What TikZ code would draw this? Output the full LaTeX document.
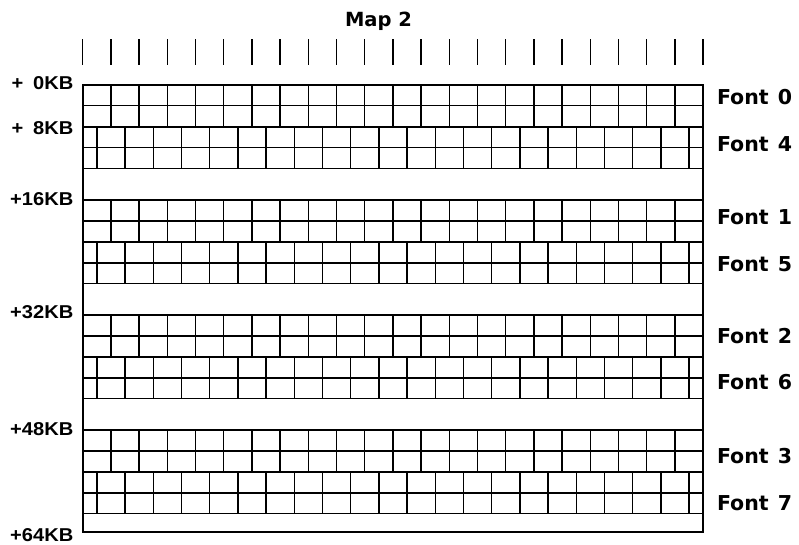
\documentclass[tikz,border=0pt]{standalone}
\usepackage{fontspec}
\usepackage{graphicx}
\newfontfamily\lblfont{DejaVu Sans}[BoldFont={DejaVu Sans Bold}]
\newfontfamily\kbfont{Liberation Sans}[BoldFont={Liberation Sans Bold}]
\begin{document}
\begin{tikzpicture}[x=1pt,y=-1pt,
  gridline/.style={line width=1.4pt},
  framebox/.style={line width=1.9pt},
  tick/.style={line width=1.5pt},
  title/.style={inner sep=0pt,anchor=base,font=\lblfont\bfseries\fontsize{19.5}{22}\selectfont},
  fontlbl/.style={inner sep=0pt,anchor=base west,font=\lblfont\bfseries\fontsize{20.5}{24}\selectfont},
  kblbl/.style={inner sep=0pt,anchor=base east,font=\kbfont\bfseries\fontsize{18.6}{22}\selectfont}]
\useasboundingbox (0,0) rectangle (799,545);
\def\L{82.7}\def\R{703.2}\def\W{28.2}
% ticks
\foreach \k in {0,...,22} \draw[tick] (\L+\k*\W,39.5) -- (\L+\k*\W,65);
% aligned blocks
\foreach \t in {85,200,315,430} {
  \draw[gridline] (\L,\t) -- (\R,\t) (\L,\t+20.8) -- (\R,\t+20.8) (\L,\t+41.6) -- (\R,\t+41.6);
  \foreach \k in {1,...,21} \draw[gridline] (\L+\k*\W,\t) -- (\L+\k*\W,\t+41.6);
}
% offset blocks
\foreach \t in {127,242,357,472} {
  \draw[gridline] (\L,\t) -- (\R,\t) (\L,\t+20.8) -- (\R,\t+20.8) (\L,\t+41.6) -- (\R,\t+41.6);
  \foreach \k in {1,...,22} \draw[gridline] (\L+\k*\W-0.5*\W,\t) -- (\L+\k*\W-0.5*\W,\t+41.6);
}
% frame
\draw[framebox] (\L,85) rectangle (\R,532);
% title
\node[title] (map) at (378.5,26.7) {Map 2};
% left labels
\node[kblbl] (kb0) at (73.5,90) {\scalebox{1.08}[1]{+\kern9pt0KB}};
\node[kblbl] (kb8) at (73.5,135) {\scalebox{1.08}[1]{+\kern9pt8KB}};
\node[kblbl] (kb16) at (73.5,205.7) {\scalebox{1.08}[1]{+16KB}};
\node[kblbl] (kb32) at (73.5,318.3) {\scalebox{1.08}[1]{+32KB}};
\node[kblbl] (kb48) at (73.5,435) {\scalebox{1.08}[1]{+48KB}};
\node[kblbl] (kb64) at (73.5,541.5) {\scalebox{1.08}[1]{+64KB}};
% font labels
\node[fontlbl] (f0) at (716.8,105) {Font\kern2pt\ 0};
\node[fontlbl] (f4) at (716.8,151.7) {Font\kern2pt\ 4};
\node[fontlbl] (f1) at (716.8,224.3) {Font\kern2pt\ 1};
\node[fontlbl] (f5) at (716.8,271.7) {Font\kern2pt\ 5};
\node[fontlbl] (f2) at (716.8,343.3) {Font\kern2pt\ 2};
\node[fontlbl] (f6) at (716.8,389.3) {Font\kern2pt\ 6};
\node[fontlbl] (f3) at (716.8,463.3) {Font\kern2pt\ 3};
\node[fontlbl] (f7) at (716.8,510) {Font\kern2pt\ 7};
\end{tikzpicture}
\end{document}
